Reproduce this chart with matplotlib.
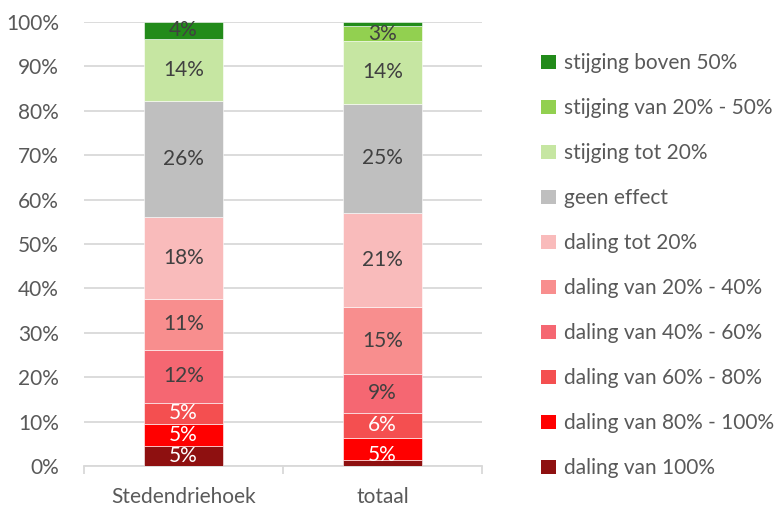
import numpy as np
import matplotlib
matplotlib.use("Agg")
import matplotlib.pyplot as plt
from matplotlib.patches import Patch

plt.rcParams["font.family"] = ["Lato", "DejaVu Sans"]

categories = ["Stedendriehoek", "totaal"]
series = ["daling van 100%", "daling van 80% - 100%", "daling van 60% - 80%",
          "daling van 40% - 60%", "daling van 20% - 40%", "daling tot 20%",
          "geen effect", "stijging tot 20%", "stijging van 20% - 50%",
          "stijging boven 50%"]
sted = [4.6, 4.8, 4.9, 11.9, 11.4, 18.5, 26.1, 14.0, 0.0, 3.8]
totaal = [1.4, 5.0, 5.6, 8.7, 15.0, 21.3, 24.6, 14.2, 3.2, 1.0]
# labels as printed on the bars (None = not shown)
sted_lbl = ["5%", "5%", "5%", "12%", "11%", "18%", "26%", "14%", None, "4%"]
tot_lbl = [None, "5%", "6%", "9%", "15%", "21%", "25%", "14%", "3%", None]

colors = ["#8E1010", "#FF0000", "#F44F50", "#F56772", "#F88E8E", "#F9BBBB",
          "#BFBFBF", "#C6E6A2", "#92D050", "#228B1A"]
white_lbl = {0, 1, 2}
GRID = "#D9D9D9"; TXT = "#595959"
FS = 15

fig = plt.figure(figsize=(7.76, 5.07), dpi=100)
ax = fig.add_axes([84 / 776, 41 / 507, 398 / 776, 444 / 507])

vals = np.array([sted, totaal])
x = np.arange(len(categories))
bottom = np.zeros(len(categories))
for i, name in enumerate(series):
    ax.bar(x, vals[:, i], 0.4, bottom=bottom, color=colors[i], label=name,
           edgecolor="white", linewidth=0.4, zorder=3)
    for j, lbls in enumerate([sted_lbl, tot_lbl]):
        if lbls[i] is None:
            continue
        yc = bottom[j] + vals[j, i] / 2
        if j == 1 and i == 1:
            yc -= 1.5
        ax.text(x[j], yc, lbls[i], ha="center", va="center", fontsize=FS,
                color="white" if i in white_lbl else "#404040", zorder=4)
    bottom += vals[:, i]

ax.set_xlim(-0.5, 1.5)
ax.set_ylim(0, 100)
ax.set_yticks(np.arange(0, 101, 10))
ax.set_yticklabels([f"{v}%" for v in range(0, 101, 10)])
ax.yaxis.grid(True, color=GRID, lw=1.3, zorder=0)
ax.set_xticks(x)
ax.set_xticklabels(categories)
ax.set_xticks([-0.5, 0.5, 1.5], minor=True)
ax.tick_params(axis="x", which="major", length=0, pad=15, labelsize=FS, labelcolor=TXT)
ax.tick_params(axis="x", which="minor", length=6, color=GRID, width=1.3)
ax.tick_params(axis="y", length=0, pad=18, labelsize=FS, labelcolor=TXT)
for s in ["top", "right", "left"]:
    ax.spines[s].set_visible(False)
ax.spines["bottom"].set_color(GRID)
ax.spines["bottom"].set_linewidth(1.3)

handles = [Patch(facecolor=colors[i], label=series[i]) for i in range(len(series))][::-1]
fig.legend(handles=handles, loc="upper left", bbox_to_anchor=(533 / 776, 1 - 45 / 507),
           frameon=False, fontsize=FS, labelcolor=TXT, handlelength=0.7,
           handleheight=0.7, handletextpad=0.4, labelspacing=1.2, borderaxespad=0)

fig.savefig("out.png", dpi=100)
